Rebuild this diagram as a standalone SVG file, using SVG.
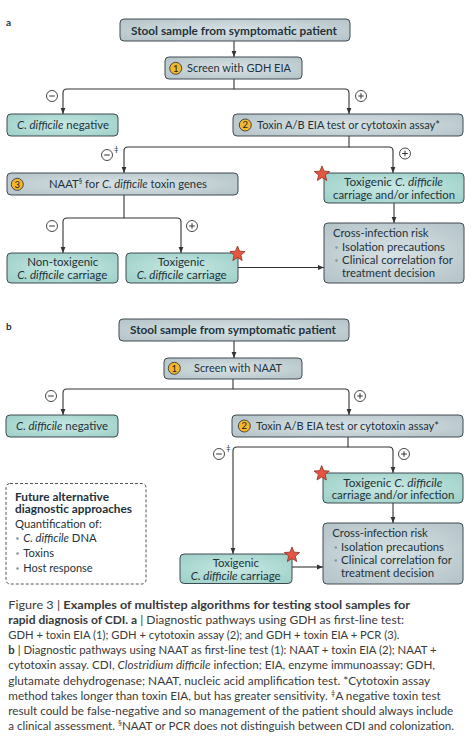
<svg xmlns="http://www.w3.org/2000/svg" width="472" height="741" viewBox="0 0 472 741">
<defs>
<style>
.t{font-family:Lato,"Open Sans","Liberation Sans",sans-serif;font-size:11.5px;fill:#22323a}
.b{font-weight:bold}
.i{font-style:italic}
.g{fill:url(#gg);stroke:#3e4b50;stroke-width:1}
.c{fill:url(#tg);stroke:#3e4b50;stroke-width:1}
.ln{fill:none;stroke:#333;stroke-width:1.1}
.sg{fill:#fff;stroke:#333;stroke-width:0.9}
.sl{stroke:#333;stroke-width:1;fill:none}
.num{fill:#f4b62c;stroke:#3a3a3a;stroke-width:0.9}
.nt{font-family:Lato,"Liberation Sans",sans-serif;font-size:9.5px;fill:#222;text-anchor:middle}
.cap{font-family:Lato,"Open Sans","Liberation Sans",sans-serif;font-size:11.6px;fill:#3a3a3a}
.bul{fill:#7f99a3}
</style>
<radialGradient id="gg" cx="50%" cy="50%" r="65%">
<stop offset="0" stop-color="#d8e2e5"/><stop offset="1" stop-color="#b6c5ca"/>
</radialGradient>
<radialGradient id="tg" cx="50%" cy="50%" r="65%">
<stop offset="0" stop-color="#c9e8e3"/><stop offset="1" stop-color="#9ed1c9"/>
</radialGradient>
<marker id="ar" viewBox="0 0 6 6" refX="6" refY="3" markerWidth="6" markerHeight="6" markerUnits="userSpaceOnUse" orient="auto">
<path d="M0,0.6 L6,3 L0,5.4 z" fill="#333"/>
</marker>
<path id="star" d="M0,-8 L2.06,-2.83 L7.61,-2.47 L3.33,1.08 L4.7,6.47 L0,3.5 L-4.7,6.47 L-3.33,1.08 L-7.61,-2.47 L-2.06,-2.83 Z" fill="#e5553f" stroke="#8a2f22" stroke-width="0.8" stroke-linejoin="round"/>
<g id="minus"><circle r="5.5" class="sg"/><path d="M-2.8,0 H2.8" class="sl"/></g>
<g id="plus"><circle r="5.5" class="sg"/><path d="M-2.8,0 H2.8 M0,-2.8 V2.8" class="sl"/></g>
</defs>
<rect width="472" height="741" fill="#fff"/>

<text x="6" y="25.5" class="t b" style="font-size:10px">a</text>
<text x="6" y="329.5" class="t b" style="font-size:10px">b</text>

<!-- connectors -->
<g id="connectors">
<path class="ln" d="M234,41 V57" marker-end="url(#ar)"/>
<path class="ln" d="M234,79 V89 H67 Q63,89 63,93 V114" marker-end="url(#ar)"/>
<path class="ln" d="M234,89 H345 Q349,89 349,93 V114" marker-end="url(#ar)"/>
<path class="ln" d="M349,136 V147 H128 Q124,147 124,151 V173" marker-end="url(#ar)"/>
<path class="ln" d="M349,147 H389 Q393,147 393,151 V173" marker-end="url(#ar)"/>
<path class="ln" d="M394,203 V223" marker-end="url(#ar)"/>
<path class="ln" d="M124,195 V218 H67 Q63,218 63,222 V253" marker-end="url(#ar)"/>
<path class="ln" d="M124,218 H177 Q181,218 181,222 V253" marker-end="url(#ar)"/>
<path class="ln" d="M238,267.5 H324" marker-end="url(#ar)"/>

<path class="ln" d="M234,341 V358" marker-end="url(#ar)"/>
<path class="ln" d="M233,379 V389 H67 Q63,389 63,393 V415" marker-end="url(#ar)"/>
<path class="ln" d="M233,389 H345 Q349,389 349,393 V415" marker-end="url(#ar)"/>
<path class="ln" d="M348,437 V447 H237 Q233,447 233,451 V554" marker-end="url(#ar)"/>
<path class="ln" d="M348,447 H389 Q393,447 393,451 V473" marker-end="url(#ar)"/>
<path class="ln" d="M393,503 V523" marker-end="url(#ar)"/>
<path class="ln" d="M292,567 H323" marker-end="url(#ar)"/>

<use href="#minus" x="52" y="96"/>
<use href="#plus" x="361" y="96"/>
<use href="#minus" x="107" y="155"/>
<text x="114" y="152" class="t" style="font-size:8px">‡</text>
<use href="#plus" x="405" y="153.5"/>
<use href="#minus" x="52" y="226"/>
<use href="#plus" x="192" y="226"/>

<use href="#minus" x="51" y="396"/>
<use href="#plus" x="360" y="396"/>
<use href="#minus" x="219" y="454"/>
<text x="226" y="451" class="t" style="font-size:8px">‡</text>
<use href="#plus" x="404" y="454"/>
</g>

<!-- part a nodes -->
<g id="a-stool">
<rect x="120" y="19" width="230" height="22" rx="4" class="g"/>
<text x="131" y="34.5" class="t b" textLength="206" lengthAdjust="spacingAndGlyphs">Stool sample from symptomatic patient</text>
</g>
<g id="a-screen">
<rect x="165" y="57" width="137" height="22" rx="4" class="g"/>
<circle cx="175.7" cy="68.3" r="6" class="num"/><text x="175.7" y="71.6" class="nt">1</text>
<text x="187" y="72" class="t" textLength="104" lengthAdjust="spacingAndGlyphs">Screen with GDH EIA</text>
</g>
<g id="a-neg">
<rect x="7" y="114" width="111" height="22" rx="4" class="c"/>
<text x="17" y="129" class="t" textLength="92" lengthAdjust="spacingAndGlyphs"><tspan class="i">C. difficile</tspan> negative</text>
</g>
<g id="a-toxin">
<rect x="233" y="114" width="230" height="22" rx="4" class="g"/>
<circle cx="245.3" cy="125" r="6" class="num"/><text x="245.3" y="128.3" class="nt">2</text>
<text x="257" y="129" class="t" textLength="183" lengthAdjust="spacingAndGlyphs">Toxin A/B EIA test or cytotoxin assay*</text>
</g>
<g id="a-naat">
<rect x="7" y="173" width="231" height="22" rx="4" class="g"/>
<circle cx="17.3" cy="184.3" r="6" class="num"/><text x="17.3" y="187.6" class="nt">3</text>
<text x="49" y="188" class="t" textLength="158" lengthAdjust="spacingAndGlyphs">NAAT<tspan dy="-4" style="font-size:7px">§</tspan><tspan dy="4"> for </tspan><tspan class="i">C. difficile</tspan> toxin genes</text>
</g>
<g id="a-toxigenic">
<rect x="324" y="173" width="140" height="30" rx="4" class="c"/>
<text x="344" y="186" class="t" textLength="99" lengthAdjust="spacingAndGlyphs">Toxigenic  <tspan class="i">C. difficile</tspan></text>
<text x="333" y="198.5" class="t" textLength="122" lengthAdjust="spacingAndGlyphs">carriage and/or infection</text>
<use href="#star" x="322" y="174"/>
</g>
<g id="a-risk">
<rect x="324" y="223" width="140" height="60" rx="4" class="g"/>
<text x="333" y="237" class="t" textLength="95.5" lengthAdjust="spacingAndGlyphs">Cross-infection risk</text>
<circle cx="336.5" cy="247.5" r="1.3" class="bul"/>
<text x="342" y="251" class="t" textLength="103" lengthAdjust="spacingAndGlyphs">Isolation precautions</text>
<circle cx="336.5" cy="260.5" r="1.3" class="bul"/>
<text x="342" y="264" class="t" textLength="111" lengthAdjust="spacingAndGlyphs">Clinical correlation for</text>
<text x="342" y="277" class="t" textLength="93" lengthAdjust="spacingAndGlyphs">treatment decision</text>
</g>
<g id="a-nontox">
<rect x="7" y="253" width="111" height="30" rx="4" class="c"/>
<text x="27.3" y="266" class="t" textLength="71" lengthAdjust="spacingAndGlyphs">Non-toxigenic</text>
<text x="17.3" y="278.5" class="t" textLength="90" lengthAdjust="spacingAndGlyphs"><tspan class="i">C. difficile</tspan> carriage</text>
</g>
<g id="a-toxcar">
<rect x="126" y="253" width="112" height="30" rx="4" class="c"/>
<text x="157.7" y="266" class="t" textLength="47" lengthAdjust="spacingAndGlyphs">Toxigenic</text>
<text x="136.7" y="278.5" class="t" textLength="90" lengthAdjust="spacingAndGlyphs"><tspan class="i">C. difficile</tspan> carriage</text>
<use href="#star" x="237.5" y="254"/>
</g>

<!-- part b nodes -->
<g id="b-stool">
<rect x="119" y="319" width="230" height="22" rx="4" class="g"/>
<text x="130" y="334" class="t b" textLength="206" lengthAdjust="spacingAndGlyphs">Stool sample from symptomatic patient</text>
</g>
<g id="b-screen">
<rect x="164" y="358" width="138" height="21" rx="4" class="g"/>
<circle cx="174.3" cy="368.3" r="6" class="num"/><text x="174.3" y="371.6" class="nt">1</text>
<text x="194" y="372" class="t" textLength="88" lengthAdjust="spacingAndGlyphs">Screen with NAAT</text>
</g>
<g id="b-neg">
<rect x="6" y="415" width="112" height="22" rx="4" class="c"/>
<text x="16" y="430" class="t" textLength="92" lengthAdjust="spacingAndGlyphs"><tspan class="i">C. difficile</tspan> negative</text>
</g>
<g id="b-toxin">
<rect x="232" y="415" width="231" height="22" rx="4" class="g"/>
<circle cx="244.3" cy="426" r="6" class="num"/><text x="244.3" y="429.3" class="nt">2</text>
<text x="256" y="430" class="t" textLength="183" lengthAdjust="spacingAndGlyphs">Toxin A/B EIA test or cytotoxin assay*</text>
</g>
<g id="b-toxigenic">
<rect x="323" y="473" width="140" height="30" rx="4" class="c"/>
<text x="343.3" y="486.5" class="t" textLength="99" lengthAdjust="spacingAndGlyphs">Toxigenic  <tspan class="i">C. difficile</tspan></text>
<text x="331.7" y="498.5" class="t" textLength="122.6" lengthAdjust="spacingAndGlyphs">carriage and/or infection</text>
<use href="#star" x="321.7" y="473.5"/>
</g>
<g id="b-risk">
<rect x="323" y="523" width="140" height="61" rx="4" class="g"/>
<text x="332.3" y="536.5" class="t" textLength="95.5" lengthAdjust="spacingAndGlyphs">Cross-infection risk</text>
<circle cx="335.8" cy="547.5" r="1.3" class="bul"/>
<text x="341" y="551" class="t" textLength="103" lengthAdjust="spacingAndGlyphs">Isolation precautions</text>
<circle cx="335.8" cy="560.5" r="1.3" class="bul"/>
<text x="341" y="564" class="t" textLength="111" lengthAdjust="spacingAndGlyphs">Clinical correlation for</text>
<text x="341" y="577" class="t" textLength="93" lengthAdjust="spacingAndGlyphs">treatment decision</text>
</g>
<g id="b-toxcar">
<rect x="180" y="554" width="112" height="29.5" rx="4" class="c"/>
<text x="212.7" y="566.5" class="t" textLength="46.3" lengthAdjust="spacingAndGlyphs">Toxigenic</text>
<text x="190.7" y="579.5" class="t" textLength="90" lengthAdjust="spacingAndGlyphs"><tspan class="i">C. difficile</tspan> carriage</text>
<use href="#star" x="292" y="555"/>
</g>
<g id="b-future">
<rect x="6" y="483.5" width="140" height="100.5" rx="4" fill="#fff" stroke="#555" stroke-width="1" stroke-dasharray="3,2"/>
<text x="15" y="501" class="t b" textLength="94" lengthAdjust="spacingAndGlyphs">Future alternative</text>
<text x="15" y="513" class="t b" textLength="117" lengthAdjust="spacingAndGlyphs">diagnostic approaches</text>
<text x="15" y="527.5" class="t" textLength="86.7" lengthAdjust="spacingAndGlyphs">Quantification of:</text>
<circle cx="17.5" cy="538.5" r="1.3" class="bul"/>
<text x="23.3" y="542" class="t" textLength="73.3" lengthAdjust="spacingAndGlyphs"><tspan class="i">C. difficile</tspan> DNA</text>
<circle cx="17.5" cy="553.5" r="1.3" class="bul"/>
<text x="23.3" y="557" class="t" textLength="30.7" lengthAdjust="spacingAndGlyphs">Toxins</text>
<circle cx="17.5" cy="568.5" r="1.3" class="bul"/>
<text x="23.3" y="572" class="t" textLength="69.3" lengthAdjust="spacingAndGlyphs">Host response</text>
</g>

<!-- caption -->
<g id="caption" class="cap">
<text x="8.3" y="609" textLength="401.7" lengthAdjust="spacingAndGlyphs">Figure 3 | <tspan font-weight="bold">Examples of multistep algorithms for testing stool samples for</tspan></text>
<text x="8.3" y="624.1" textLength="395.7" lengthAdjust="spacingAndGlyphs"><tspan font-weight="bold">rapid diagnosis of CDI. a</tspan> | Diagnostic pathways using GDH as first-line test:</text>
<text x="8.3" y="639.2" textLength="391" lengthAdjust="spacingAndGlyphs">GDH + toxin EIA (1); GDH + cytotoxin assay (2); and GDH + toxin EIA + PCR (3).</text>
<text x="8.3" y="654.3" textLength="428.4" lengthAdjust="spacingAndGlyphs"><tspan font-weight="bold">b</tspan> | Diagnostic pathways using NAAT as first-line test (1): NAAT + toxin EIA (2); NAAT +</text>
<text x="8.3" y="669.4" textLength="426.7" lengthAdjust="spacingAndGlyphs">cytotoxin assay. CDI, <tspan font-style="italic">Clostridium difficile</tspan> infection; EIA, enzyme immunoassay; GDH,</text>
<text x="8.3" y="684.5" textLength="421.7" lengthAdjust="spacingAndGlyphs">glutamate dehydrogenase; NAAT, nucleic acid amplification test. *Cytotoxin assay</text>
<text x="8.3" y="699.6" textLength="432.4" lengthAdjust="spacingAndGlyphs">method takes longer than toxin EIA, but has greater sensitivity. <tspan dy="-3.5" font-size="8px">‡</tspan><tspan dy="3.5">A negative toxin test</tspan></text>
<text x="8.3" y="714.7" textLength="445" lengthAdjust="spacingAndGlyphs">result could be false-negative and so management of the patient should always include</text>
<text x="8.3" y="729.8" textLength="445.7" lengthAdjust="spacingAndGlyphs">a clinical assessment. <tspan dy="-3.5" font-size="8px">§</tspan><tspan dy="3.5">NAAT or PCR does not distinguish between CDI and colonization.</tspan></text>
</g>
</svg>
